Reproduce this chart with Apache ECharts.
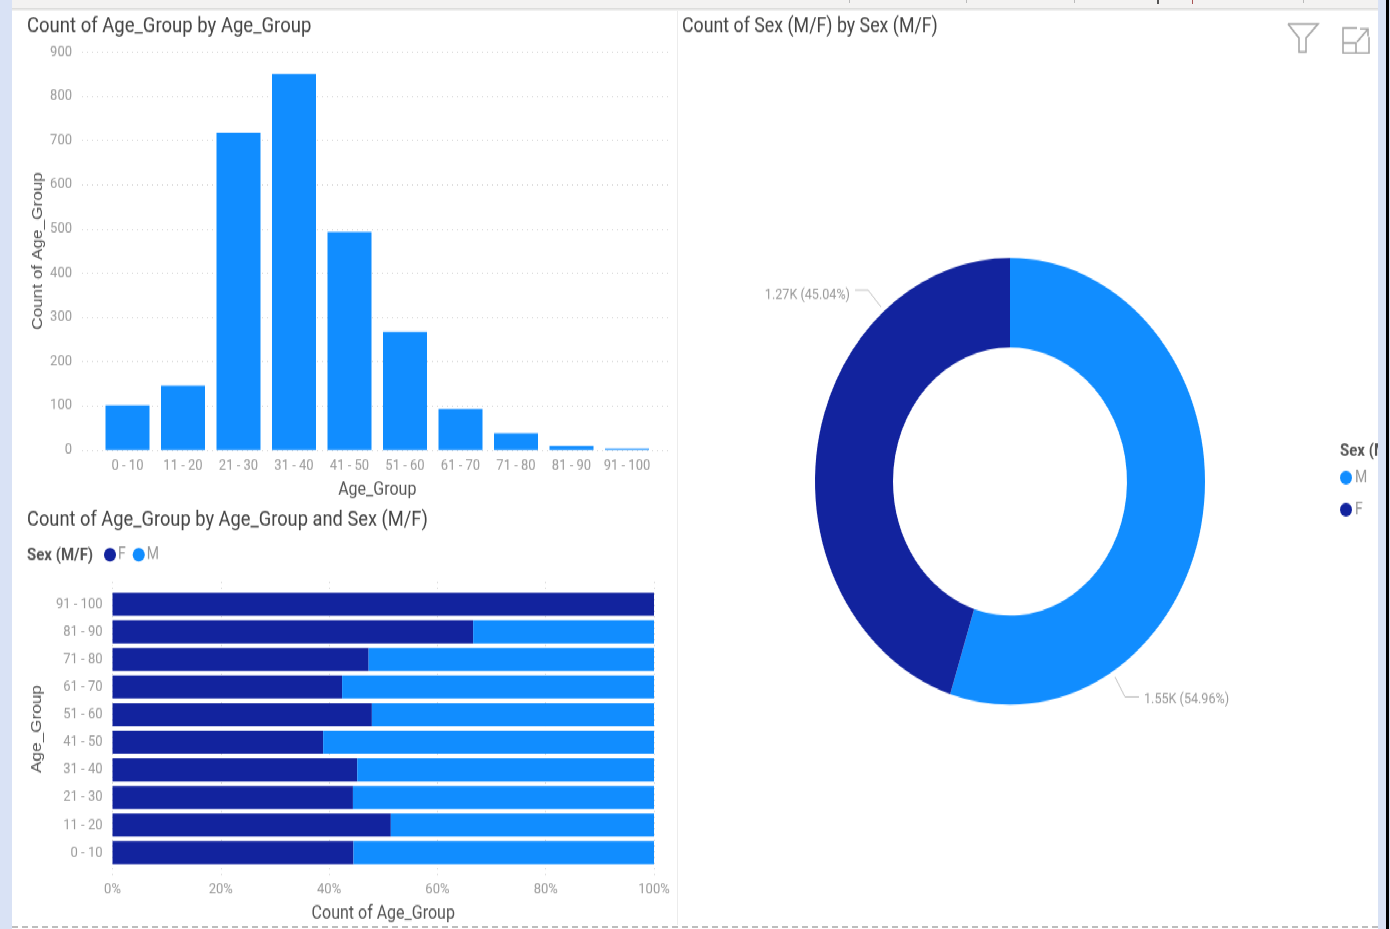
<!DOCTYPE html>
<html>
<head>
<meta charset="utf-8">
<script src="https://cdn.jsdelivr.net/npm/echarts@6/dist/echarts.min.js"></script>
<style>
html,body{margin:0;padding:0;width:1390px;height:929px;overflow:hidden;background:#fff}
#wrap{position:absolute;left:0;top:0;width:1390px;height:929px;overflow:hidden;filter:blur(0.75px)}
#main{position:absolute;left:0;top:0;width:1390px;height:811px;transform-origin:0 0;transform:scaleY(1.1455)}
.b{position:absolute}
</style>
</head>
<body>
<div id="wrap">
<div id="main"></div>
<div class="b" style="left:0;top:0;width:1390px;height:8px;background:#f3f2f1"></div>
<div class="b" style="left:0;top:8px;width:1390px;height:3px;background:linear-gradient(#d8d8d6,#f6f6f6)"></div>
<div class="b" style="left:0;top:0;width:12px;height:929px;background:#d9e2f5"></div>
<div class="b" style="left:1378px;top:0;width:12px;height:929px;background:#d9e2f5"></div>
<div class="b" style="left:1386px;top:0;width:3px;height:929px;background:#000"></div>
<div class="b" style="left:677px;top:11px;width:1px;height:914px;background:#ececec"></div>
<div class="b" style="left:12px;top:926px;width:1366px;height:0;border-top:2px dashed #bdbdbd"></div>
<div class="b" style="left:849px;top:0;width:1px;height:3px;background:#bbb"></div>
<div class="b" style="left:966px;top:0;width:1px;height:3px;background:#bbb"></div>
<div class="b" style="left:1074px;top:0;width:1px;height:3px;background:#bbb"></div>
<div class="b" style="left:1157px;top:0;width:2px;height:4px;background:#555"></div>
<div class="b" style="left:1192px;top:0;width:1px;height:4px;background:#a55"></div>
<div class="b" style="left:1303px;top:0;width:1px;height:3px;background:#bbb"></div>
</div>
<script>
const ageGroups = ['0 - 10','11 - 20','21 - 30','31 - 40','41 - 50','51 - 60','61 - 70','71 - 80','81 - 90','91 - 100'];
const ageCounts = [101,145,717,850,493,267,93,38,9,3];
const femaleShare = [44.5,51.4,44.4,45.2,38.9,47.9,42.4,47.3,66.6,100];
const maleShare = [55.5,48.6,55.6,54.8,61.1,52.1,57.6,52.7,33.4,0];
const sexNames = ['M','F'];
const sexCounts = [1550,1270];
const countTicks = {min:0,max:900,interval:100};
const shareTicks = {min:0,max:100,interval:20};

const S = 929/811;
const Y = y => y/S;
const BLUE = '#118DFF', NAVY = '#12239E';
const FONT = 'Roboto, "Open Sans", sans-serif';
const tick = {color:'#9a9a9a',fontSize:13,fontFamily:FONT};
const axisName = {color:'#555',fontSize:16,fontFamily:FONT};
const rotName = {color:'#555',fontSize:15,fontFamily:'"Liberation Sans",sans-serif'};
const dotted = {show:true,lineStyle:{color:'#d4d4d4',type:[1,4],width:1}};
const none = {show:false};
const titleAt = (text,x,y,extra) => ({text,left:x,top:Y(y),padding:0,textVerticalAlign:'middle',
  textStyle:Object.assign({color:'#444',fontSize:18,fontWeight:'normal',fontFamily:FONT},extra||{})});

const chart = echarts.init(document.getElementById('main'),null,{renderer:'canvas'});
const labelSpots = {
  M:{x:1144,y:Y(700),align:'left',line:[[1115,Y(677)],[1125,Y(697)],[1139,Y(697)]]},
  F:{x:850,y:Y(295),align:'right',line:[[881,Y(307)],[868,Y(290)],[855,Y(290)]]}
};
const stroke = {stroke:'#a8a8a8',lineWidth:1.6,fill:'none'};
const iconLine = pts => ({type:'polyline',shape:{points:pts.map(p=>[p[0],Y(p[1])])},style:stroke,silent:true});

chart.setOption({
  animation:false,
  backgroundColor:'#fff',
  title:[
    titleAt('Count of Age_Group by Age_Group',27,26.7,{fontSize:18.5}),
    titleAt('Count of Sex (M/F) by Sex (M/F)',682,26.7,{fontSize:17.8}),
    titleAt('Count of Age_Group by Age_Group and Sex (M/F)',27,520.7,{fontSize:18.3}),
    titleAt('Sex (M/F)',27,555.7,{fontSize:15,fontWeight:'bold',color:'#555'}),
    titleAt('Sex (M/F)',1340,451.7,{fontSize:15,fontWeight:'bold',color:'#555'})
  ],
  legend:[
    {data:['F','M'],left:99,top:Y(541),orient:'horizontal',itemWidth:12,itemHeight:12,itemGap:7,icon:'circle',
     selectedMode:false,textStyle:{color:'#999',fontSize:14,fontFamily:FONT,padding:[0,0,0,-3]}},
    {data:['M','F'],left:1335,top:Y(464),orient:'vertical',itemWidth:12,itemHeight:12,itemGap:14,icon:'circle',
     selectedMode:false,textStyle:{color:'#999',fontSize:14,fontFamily:FONT,padding:[0,0,0,-2]}}
  ],
  grid:[
    {left:82,width:588,top:Y(52),height:Y(450)-Y(52)},
    {left:99.75,width:555,top:Y(52),height:Y(450)-Y(52)},
    {left:112.5,width:541.5,top:Y(582),height:Y(876)-Y(582)},
    {left:112.5,width:541.5,top:Y(590.5),height:Y(866.5)-Y(590.5)}
  ],
  xAxis:[
    {gridIndex:0,type:'value',show:false},
    {gridIndex:1,type:'category',data:ageGroups,axisLine:none,axisTick:none,axisLabel:Object.assign({margin:7,interval:0},tick),
     name:'Age_Group',nameLocation:'middle',nameGap:27,nameTextStyle:axisName},
    {gridIndex:2,type:'value',min:shareTicks.min,max:shareTicks.max,interval:shareTicks.interval,
     axisLine:none,axisTick:none,axisLabel:Object.assign({margin:6,formatter:'{value}%'},tick),splitLine:dotted,
     name:'Count of Age_Group',nameLocation:'middle',nameGap:25,nameTextStyle:axisName},
    {gridIndex:3,type:'value',min:shareTicks.min,max:shareTicks.max,show:false,splitLine:none}
  ],
  yAxis:[
    {gridIndex:0,type:'value',min:countTicks.min,max:countTicks.max,interval:countTicks.interval,
     axisLine:none,axisTick:none,axisLabel:Object.assign({margin:10,padding:[2,0,0,0]},tick),splitLine:dotted,
     name:'Count of Age_Group',nameLocation:'middle',nameGap:37,nameTextStyle:rotName},
    {gridIndex:1,type:'value',min:countTicks.min,max:countTicks.max,show:false,splitLine:none},
    {gridIndex:2,type:'category',data:ageGroups,show:true,axisLine:none,axisTick:none,axisLabel:{show:false},splitLine:none,
     name:'Age_Group',nameLocation:'middle',nameGap:68,nameTextStyle:rotName},
    {gridIndex:3,type:'category',data:ageGroups,axisLine:none,axisTick:none,axisLabel:Object.assign({margin:10,interval:0,padding:[2,0,0,0]},tick)}
  ],
  series:[
    {type:'bar',name:'Count of Age_Group',xAxisIndex:1,yAxisIndex:1,data:ageCounts,barWidth:44,itemStyle:{color:BLUE}},
    {type:'bar',name:'F',xAxisIndex:3,yAxisIndex:3,stack:'share',data:femaleShare,barWidth:Y(23),itemStyle:{color:NAVY}},
    {type:'bar',name:'M',xAxisIndex:3,yAxisIndex:3,stack:'share',data:maleShare,barWidth:Y(23),itemStyle:{color:BLUE}},
    {type:'pie',name:'Sex',center:[1010,Y(481.5)],radius:[117,195],startAngle:90,percentPrecision:2,
     data:sexNames.map((n,i)=>({name:n,value:sexCounts[i],itemStyle:{color:n==='M'?BLUE:NAVY}})),
     label:{show:true,position:'outside',color:'#999',fontSize:12.6,fontFamily:FONT,
       formatter:p=>(p.value/1000).toFixed(2)+'K ('+p.percent.toFixed(2)+'%)'},
     labelLine:{show:true,lineStyle:{color:'#c4c4c4',width:1}},
     labelLayout:p=>{const s=labelSpots[sexNames[p.dataIndex]];
       return {x:s.x,y:s.y,align:s.align,verticalAlign:'middle',labelLinePoints:s.line};}}
  ],
  graphic:[
    iconLine([[1288,24],[1318,24],[1306,38],[1306,52],[1299,52],[1299,38],[1288,24]]),
    iconLine([[1357,28],[1343,28],[1343,53],[1369,53],[1369,37]]),
    iconLine([[1343,43],[1356,43],[1356,53]]),
    iconLine([[1357,42],[1368,29]]),
    iconLine([[1360,29],[1368,29],[1368,36]])
  ]
});
</script>
</body>
</html>
